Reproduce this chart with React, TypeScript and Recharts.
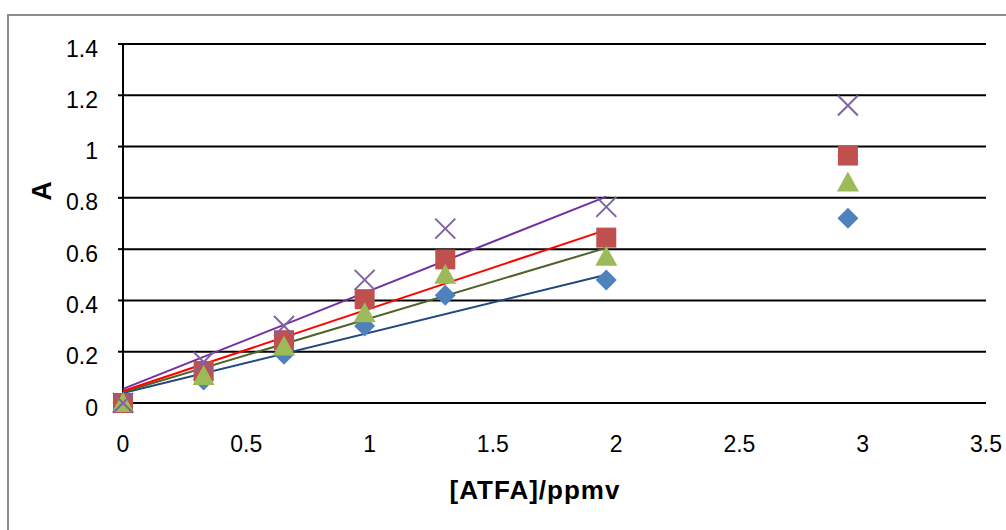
import { CartesianGrid, Label, Scatter, ScatterChart, XAxis, YAxis } from "recharts";

// concentration points (ppmv)
const CONC = [0, 0.327, 0.653, 0.98, 1.307, 1.96, 2.94];
const SERIES_BLUE = [0, 0.09, 0.19, 0.3, 0.42, 0.48, 0.72];
const SERIES_RED = [0, 0.125, 0.245, 0.405, 0.56, 0.645, 0.965];
const SERIES_GREEN = [0, 0.105, 0.22, 0.35, 0.5, 0.57, 0.86];
const SERIES_PURPLE = [0, 0.16, 0.3, 0.48, 0.68, 0.765, 1.16];

// linear trend lines, fitted over 0..1.96
const TREND_X = [0, 1.96];
const TREND_BLUE = [0.039, 0.5];
const TREND_RED = [0.047, 0.675];
const TREND_GREEN = [0.043, 0.605];
const TREND_PURPLE = [0.055, 0.805];

const X_TICKS = [0, 0.5, 1, 1.5, 2, 2.5, 3, 3.5];
const Y_TICKS = [0, 0.2, 0.4, 0.6, 0.8, 1, 1.2, 1.4];

const FONT = "'Liberation Sans', Arial, sans-serif";

const toPoints = (xs: number[], ys: number[]) => xs.map((x, i) => ({ x, y: ys[i] }));

const Diamond = ({ cx, cy }: any) => (
  <polygon points={`${cx},${cy - 10.5} ${cx + 10.5},${cy} ${cx},${cy + 10.5} ${cx - 10.5},${cy}`} fill="#4F81BD" />
);
const Square = ({ cx, cy }: any) => <rect x={cx - 10} y={cy - 10} width={20} height={20} fill="#C0504D" />;
const Triangle = ({ cx, cy }: any) => (
  <polygon points={`${cx},${cy - 11} ${cx + 11},${cy + 9} ${cx - 11},${cy + 9}`} fill="#9BBB59" />
);
const Cross = ({ cx, cy }: any) => (
  <g stroke="#8064A2" strokeWidth={2}>
    <line x1={cx - 10} y1={cy - 10} x2={cx + 10} y2={cy + 10} />
    <line x1={cx - 10} y1={cy + 10} x2={cx + 10} y2={cy - 10} />
  </g>
);
const NoDot = () => <g />;

const YTick = ({ x, y, payload }: any) => (
  <text x={x} y={y} dy={12.5} textAnchor="end" fontSize={23} fontFamily={FONT} fill="#000">
    {String(payload.value)}
  </text>
);
const XTick = ({ x, y, payload }: any) => (
  <text x={x} y={y} dy={49} textAnchor="middle" fontSize={23} fontFamily={FONT} fill="#000">
    {String(payload.value)}
  </text>
);

const trends = [
  { ys: TREND_BLUE, color: "#1F497D" },
  { ys: TREND_GREEN, color: "#4F6228" },
  { ys: TREND_RED, color: "#FF0000" },
  { ys: TREND_PURPLE, color: "#7030A0" },
];

export default function App() {
  return (
    <div style={{ position: "absolute", left: 0, top: 0, width: 1006, height: 530, overflow: "hidden", background: "#fff" }}>
      <div
        style={{
          position: "absolute",
          left: 7,
          top: 14,
          width: 1100,
          height: 600,
          border: "2px solid #8c8c8c",
        }}
      />
      <div style={{ position: "absolute", left: 0, top: 0 }}>
        <ScatterChart width={1006} height={530} margin={{ top: 44, right: 20, bottom: 0, left: 0 }}>
          <CartesianGrid vertical={false} stroke="#000" strokeWidth={2} />
          <XAxis
            type="number"
            dataKey="x"
            domain={[0, 3.5]}
            ticks={X_TICKS}
            height={127}
            tickLine={false}
            tickSize={0}
            tickMargin={0}
            axisLine={{ stroke: "#000", strokeWidth: 2 }}
            tick={<XTick />}
          >
            <Label
              content={() => (
                <text x={535} y={499} textAnchor="middle" fontSize={26} fontWeight="bold" letterSpacing={1} fontFamily={FONT} fill="#000">
                  [ATFA]/ppmv
                </text>
              )}
            />
          </XAxis>
          <YAxis
            type="number"
            dataKey="y"
            domain={[0, 1.4]}
            ticks={Y_TICKS}
            width={123}
            tickSize={5}
            tickMargin={20}
            tickLine={{ stroke: "#000", strokeWidth: 2 }}
            axisLine={{ stroke: "#000", strokeWidth: 2 }}
            tick={<YTick />}
          >
            <Label
              content={() => (
                <text
                  x={42}
                  y={191}
                  transform="rotate(-90 42 191)"
                  textAnchor="middle"
                  dominantBaseline="central"
                  fontSize={27}
                  fontWeight="bold"
                  fontFamily={FONT}
                  fill="#000"
                >
                  A
                </text>
              )}
            />
          </YAxis>
          {trends.map((t, i) => (
            <Scatter
              key={i}
              data={toPoints(TREND_X, t.ys)}
              line={{ stroke: t.color, strokeWidth: 2 }}
              lineType="joint"
              shape={<NoDot />}
              isAnimationActive={false}
            />
          ))}
          <Scatter data={toPoints(CONC, SERIES_BLUE)} shape={<Diamond />} isAnimationActive={false} />
          <Scatter data={toPoints(CONC, SERIES_RED)} shape={<Square />} isAnimationActive={false} />
          <Scatter data={toPoints(CONC, SERIES_GREEN)} shape={<Triangle />} isAnimationActive={false} />
          <Scatter data={toPoints(CONC, SERIES_PURPLE)} shape={<Cross />} isAnimationActive={false} />
        </ScatterChart>
      </div>
    </div>
  );
}
